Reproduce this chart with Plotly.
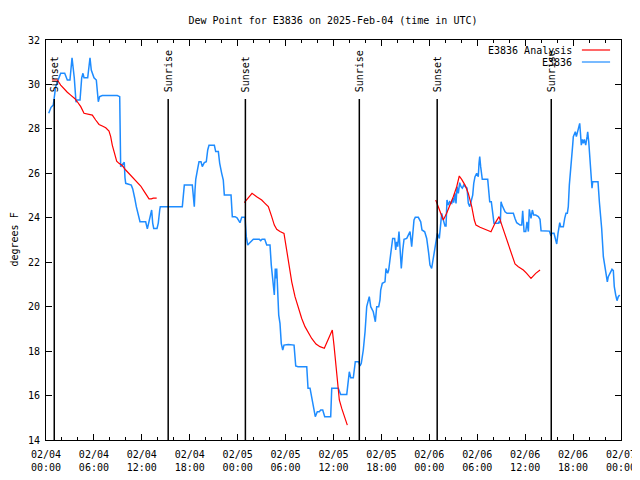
import pandas as pd
import plotly.graph_objects as go

BASE = pd.Timestamp("2025-02-04 00:00")

# Observations (E3836): hours since 2025-02-04 00:00 UTC, dew point (F)
obs_hours = [0.34, 0.63, 0.91, 1.21, 1.84, 2.34, 2.67, 3.0, 3.26, 3.54, 3.76, 3.84, 4.26, 4.47, 4.63, 4.76,
             5.22, 5.51, 5.67, 6.01, 6.30, 6.42, 6.55, 6.72, 7.05, 8.93, 9.23, 9.35, 9.64, 9.80, 9.89, 9.98,
             10.68, 10.86, 11.11, 11.31, 11.77, 12.48, 12.69, 13.02, 13.23, 13.36, 13.49, 13.90, 14.06,
             14.24, 14.31, 17.07, 17.32, 18.32, 18.50, 18.57, 18.66, 18.75, 19.00, 19.16, 19.41, 19.57,
             19.82, 20.07, 20.25, 20.41, 21.08, 21.25, 21.58, 21.75, 22.00, 22.20, 22.33, 23.17, 23.33,
             23.67, 23.92, 24.29, 24.51, 24.92, 25.08, 25.26, 25.46, 25.96, 26.71, 26.89, 27.05, 27.39,
             27.64, 28.05, 28.21, 28.39, 28.51, 28.59, 28.71, 28.80, 28.89, 29.01, 29.14, 29.30, 29.46,
             29.64, 29.80, 30.34, 31.06, 31.27, 31.56, 32.65, 32.81, 33.06, 33.40, 33.72, 33.97, 34.22,
             34.40, 34.65, 34.90, 35.65, 35.78, 36.60, 36.90, 37.66, 37.98, 38.16, 38.48, 38.73, 39.16,
             39.32, 39.48, 39.73, 39.95, 40.16, 40.48, 40.66, 40.98, 41.24, 41.41, 41.66, 41.82, 41.91,
             42.11, 42.45, 42.57, 42.79, 42.91, 43.08, 43.29, 43.41, 43.66, 43.79, 43.91, 44.04, 44.20,
             44.33, 44.49, 44.67, 44.83, 45.17, 45.42, 45.58, 45.79, 45.92, 46.08, 46.24, 46.62, 46.92,
             47.08, 47.42, 47.67, 47.92, 48.08, 48.29, 48.50, 48.71, 48.80, 49.00, 49.25, 49.46, 49.55,
             49.75, 49.96, 50.09, 50.21, 50.38, 50.55, 50.80, 50.96, 51.05, 51.22, 51.34, 51.47, 51.63,
             51.80, 51.97, 52.13, 52.31, 52.72, 52.88, 53.06, 53.22, 53.43, 53.56, 53.72, 53.93, 54.13,
             54.22, 54.31, 54.43, 54.63, 55.31, 55.47, 55.56, 55.76, 55.97, 56.10, 56.64, 56.73, 56.89,
             56.98, 57.10, 57.31, 57.48, 57.73, 58.52, 58.73, 58.94, 59.36, 59.57, 59.69, 59.86, 60.07,
             60.23, 60.40, 60.52, 60.73, 60.90, 61.07, 61.32, 61.65, 61.86, 61.99, 63.03, 63.20, 63.40,
             63.61, 63.78, 63.95, 64.11, 64.24, 64.33, 64.45, 64.78, 64.95, 65.11, 65.28, 65.40, 65.53,
             65.70, 65.83, 65.95, 66.03, 66.16, 66.28, 66.41, 66.58, 66.71, 66.83, 66.91, 67.03, 67.16,
             67.28, 67.41, 67.58, 67.75, 67.83, 67.96, 68.12, 68.29, 68.37, 68.46, 69.12, 69.29, 69.46,
             69.58, 69.79, 69.96, 70.12, 70.29, 70.41, 70.62, 70.87, 71.04, 71.16, 71.34, 71.50, 71.66,
             71.83]
obs_dewpoint = [28.70, 28.97, 29.07, 29.9, 30.5, 30.5, 30.2, 30.2, 31.2, 30.3, 29.2, 29.3, 29.3, 30.3, 30.5, 30.3,
                30.3, 31.2, 30.65, 30.3, 30.2, 29.45, 29.22, 29.45, 29.5, 29.5, 29.45, 26.3, 26.45, 26.5, 25.8, 25.55,
                25.47, 25.3, 24.88, 24.5, 23.82, 23.82, 23.5, 23.98, 24.35, 23.76, 23.52, 23.52, 23.76,
                24.35, 24.5, 24.5, 25.47, 25.47, 24.8, 24.5, 25.25, 25.73, 26.22, 26.52, 26.52, 26.3,
                26.48, 26.52, 27.05, 27.26, 27.26, 26.98, 26.98, 26.45, 26.0, 25.7, 25.02, 25.02, 24.05,
                24.05, 24.0, 23.78, 24.02, 24.02, 23.15, 22.77, 22.85, 23.03, 23.03, 22.97, 23.03, 23.03,
                22.77, 22.77, 21.87, 21.27, 20.9, 20.53, 21.72, 21.27, 21.72, 20.22, 19.62, 19.25, 18.35,
                18.05, 18.27, 18.3, 18.27, 17.33, 17.3, 17.3, 16.33, 16.33, 15.72, 15.05, 15.27, 15.27,
                15.35, 15.35, 15.05, 15.05, 16.33, 16.33, 16.05, 16.05, 17.07, 16.8, 16.8, 17.52, 17.52,
                17.33, 17.45, 18.05, 18.87, 20.0, 20.45, 20.0, 19.77, 19.32, 20.0, 20.0, 20.3, 20.75,
                21.05, 21.12, 21.72, 21.5, 21.65, 22.1, 22.55, 23.07, 23.07, 22.55, 22.92, 22.7, 23.38,
                22.7, 21.72, 22.55, 23.03, 23.07, 23.3, 23.38, 22.7, 23.45, 23.9, 24.02, 24.02, 23.82,
                23.45, 23.37, 23.07, 22.4, 21.87, 21.72, 22.25, 22.62, 23.0, 23.3, 23.07, 23.93, 24.2,
                23.9, 23.63, 23.63, 24.8, 24.57, 24.72, 24.65, 24.88, 24.68, 25.1, 24.65, 25.4, 25.1,
                25.58, 25.4, 25.33, 25.47, 25.33, 24.65, 24.5, 24.72, 25.02, 25.55, 25.85, 26.0, 25.85,
                26.45, 26.75, 26.3, 25.73, 25.73, 25.1, 24.72, 24.72, 24.05, 23.75, 23.75, 23.82, 23.75,
                24.72, 24.57, 24.42, 24.27, 24.2, 24.2, 23.97, 23.78, 23.67, 23.67, 24.31, 23.38, 23.38,
                23.82, 23.38, 24.38, 23.97, 24.35, 24.12, 24.12, 24.05, 23.93, 23.42, 23.4, 23.22, 23.3,
                23.3, 23.0, 22.82, 23.3, 23.52, 23.78, 23.6, 23.6, 23.97, 24.2, 24.2, 24.5, 25.47,
                26.07, 26.6, 27.27, 27.65, 27.8, 27.87, 27.65, 27.87, 28.02, 28.25, 27.87, 27.27, 27.53,
                27.35, 27.53, 27.27, 27.65, 27.87, 27.42, 26.52, 25.7, 25.33, 25.62, 25.62, 24.72, 24.05,
                23.52, 22.25, 21.8, 21.42, 21.12, 21.35, 21.53, 21.68, 21.62, 20.9, 20.52, 20.27, 20.45,
                20.52]

# Analysis (E3836 Analysis): three runs
ana1_hours = [0.75, 1.42, 1.84, 2.25, 2.67, 3.09, 3.59, 3.92, 4.35, 4.76, 5.17, 5.80, 6.22, 6.64, 7.05, 7.48,
              7.89, 8.10, 8.30, 8.60, 8.85, 9.14, 9.55, 9.98, 10.39, 10.81, 11.43, 11.86, 12.27, 12.69,
              12.90, 13.19, 13.44, 13.86]
ana1_dewpoint = [30.2, 30.2, 29.97, 29.8, 29.65, 29.52, 29.37, 29.22, 29.0, 28.7, 28.67, 28.62, 28.4, 28.2, 28.13,
                 28.05, 27.9, 27.65, 27.27, 26.83, 26.55, 26.45, 26.35, 26.15, 26.0, 25.85, 25.62, 25.43, 25.2,
                 24.95, 24.85, 24.85, 24.88, 24.88]
ana2_hours = [24.83, 25.33, 25.80, 26.38, 27.01, 27.42, 27.84, 28.26, 28.59, 28.89, 29.30, 29.80, 30.14, 30.43,
              30.77, 31.18, 31.59, 32.02, 32.43, 32.85, 33.27, 33.81, 34.31, 34.85, 35.35, 35.85, 36.06,
              36.31, 36.48, 36.73, 37.03, 37.32, 37.73]
ana2_dewpoint = [24.68, 24.88, 25.1, 24.95, 24.8, 24.65, 24.5, 24.05, 23.67, 23.48, 23.38, 23.3, 22.55, 21.8,
                 21.12, 20.45, 19.92, 19.47, 19.1, 18.8, 18.57, 18.32, 18.2, 18.13, 18.57, 18.95, 18.27,
                 17.3, 16.7, 15.8, 15.42, 15.13, 14.67]
ana3_hours = [48.80, 49.05, 49.34, 49.75, 50.17, 50.59, 51.00, 51.43, 51.75, 52.05, 52.47, 52.88, 53.31, 53.63,
              53.84, 54.35, 54.97, 55.72, 56.22, 56.73, 57.14, 57.56, 57.98, 58.39, 58.73, 59.14, 59.77,
              60.19, 60.73, 61.32, 61.86]
ana3_dewpoint = [24.8, 24.57, 24.27, 23.9, 24.2, 24.57, 24.95, 25.4, 25.88, 25.73, 25.47, 25.1, 24.5, 23.9,
                 23.67, 23.57, 23.48, 23.37, 23.75, 24.05, 23.6, 23.15, 22.7, 22.32, 21.92, 21.8, 21.65,
                 21.5, 21.27, 21.5, 21.65]

sun_events = ["Sunset", "Sunrise", "Sunset", "Sunrise", "Sunset", "Sunrise"]
sun_times = ["2025-02-04 01:02", "2025-02-04 15:18", "2025-02-05 00:58",
             "2025-02-05 15:14", "2025-02-06 00:59", "2025-02-06 15:16"]

tick_times = pd.date_range("2025-02-04 00:00", "2025-02-07 00:00", freq="6h")
tick_labels = [t.strftime("%m/%d") + "<br>" + t.strftime("%H:%M") for t in tick_times]
y_ticks = [14, 16, 18, 20, 22, 24, 26, 28, 30, 32]

FONT = "DejaVu Sans Mono"
BLUE = "#1e8cff"
RED = "#ff0000"

# The page body has an 8px default margin; size the figure so the plot area
# lands at x 46..621, y 40..440 in the 640x480 window.
W, H = 632, 472


def to_time(hours):
    return [BASE + pd.Timedelta(hours=h) for h in hours]


fig = go.Figure()
ana_x, ana_y = [], []
for hs, vs in [(ana1_hours, ana1_dewpoint), (ana2_hours, ana2_dewpoint), (ana3_hours, ana3_dewpoint)]:
    ana_x += to_time(hs) + [None]
    ana_y += vs + [None]

fig.add_trace(go.Scatter(x=to_time(obs_hours), y=obs_dewpoint, mode="lines", name="E3836",
                         line=dict(color=BLUE, width=1.5), showlegend=False))
fig.add_trace(go.Scatter(x=ana_x, y=ana_y, mode="lines", name="E3836 Analysis",
                         line=dict(color=RED, width=1.2), showlegend=False, connectgaps=False))

shapes = []
annotations = []
for ev, t in zip(sun_events, sun_times):
    shapes.append(dict(type="line", xref="x", yref="y", x0=t, x1=t, y0=14, y1=29.35,
                       line=dict(color="black", width=1.5)))
    annotations.append(dict(x=t, y=29.57, xref="x", yref="y", text=ev, textangle=-90,
                            showarrow=False, xanchor="center", yanchor="bottom",
                            font=dict(family=FONT, size=10, color="black")))

# legend drawn gnuplot-style: text then line sample
for i, (name, col) in enumerate([("E3836 Analysis", RED), ("E3836", BLUE)]):
    ypix = 50 + 12 * i
    yp = 1 - (ypix - 40) / 400
    annotations.append(dict(x=0.918, y=yp, xref="paper", yref="paper", text=name, showarrow=False,
                            xanchor="right", yanchor="middle",
                            font=dict(family=FONT, size=10, color="black")))
    shapes.append(dict(type="line", xref="paper", yref="paper", x0=0.932, x1=0.981, y0=yp, y1=yp,
                       line=dict(color=col, width=1.2)))

# y-axis title
annotations.append(dict(x=-0.0565, y=0.5, xref="paper", yref="paper", text="degrees F", textangle=-90,
                        showarrow=False, xanchor="center", yanchor="middle",
                        font=dict(family=FONT, size=10, color="black")))

fig.update_layout(
    width=W, height=H,
    margin=dict(l=38, r=19, t=32, b=40),
    paper_bgcolor="white", plot_bgcolor="white",
    font=dict(family=FONT, size=10, color="black"),
    title=dict(text="Dew Point for E3836 on 2025-Feb-04 (time in UTC)", x=325 / W, xanchor="center",
               y=1 - 12 / H, yanchor="middle", font=dict(family=FONT, size=10, color="black")),
    shapes=shapes, annotations=annotations,
    showlegend=False,
    xaxis=dict(range=[tick_times[0], tick_times[-1]], tickvals=list(tick_times), ticktext=tick_labels,
               automargin=False, ticklabelstandoff=5,
               showgrid=False, zeroline=False, showline=True, linecolor="black", linewidth=1,
               mirror="ticks", ticks="inside", ticklen=6, tickcolor="black",
               minor=dict(dtick=2 * 3600 * 1000, ticks="inside", ticklen=3, tickcolor="black", showgrid=False),
               tickfont=dict(family=FONT, size=10, color="black")),
    yaxis=dict(range=[14, 32], tickvals=y_ticks, showgrid=False, zeroline=False, showline=True,
               automargin=False, ticklabelstandoff=3,
               linecolor="black", linewidth=1, mirror="ticks", ticks="inside", ticklen=6, tickcolor="black",
               tickfont=dict(family=FONT, size=10, color="black")),
)

fig.write_html("out.html")
